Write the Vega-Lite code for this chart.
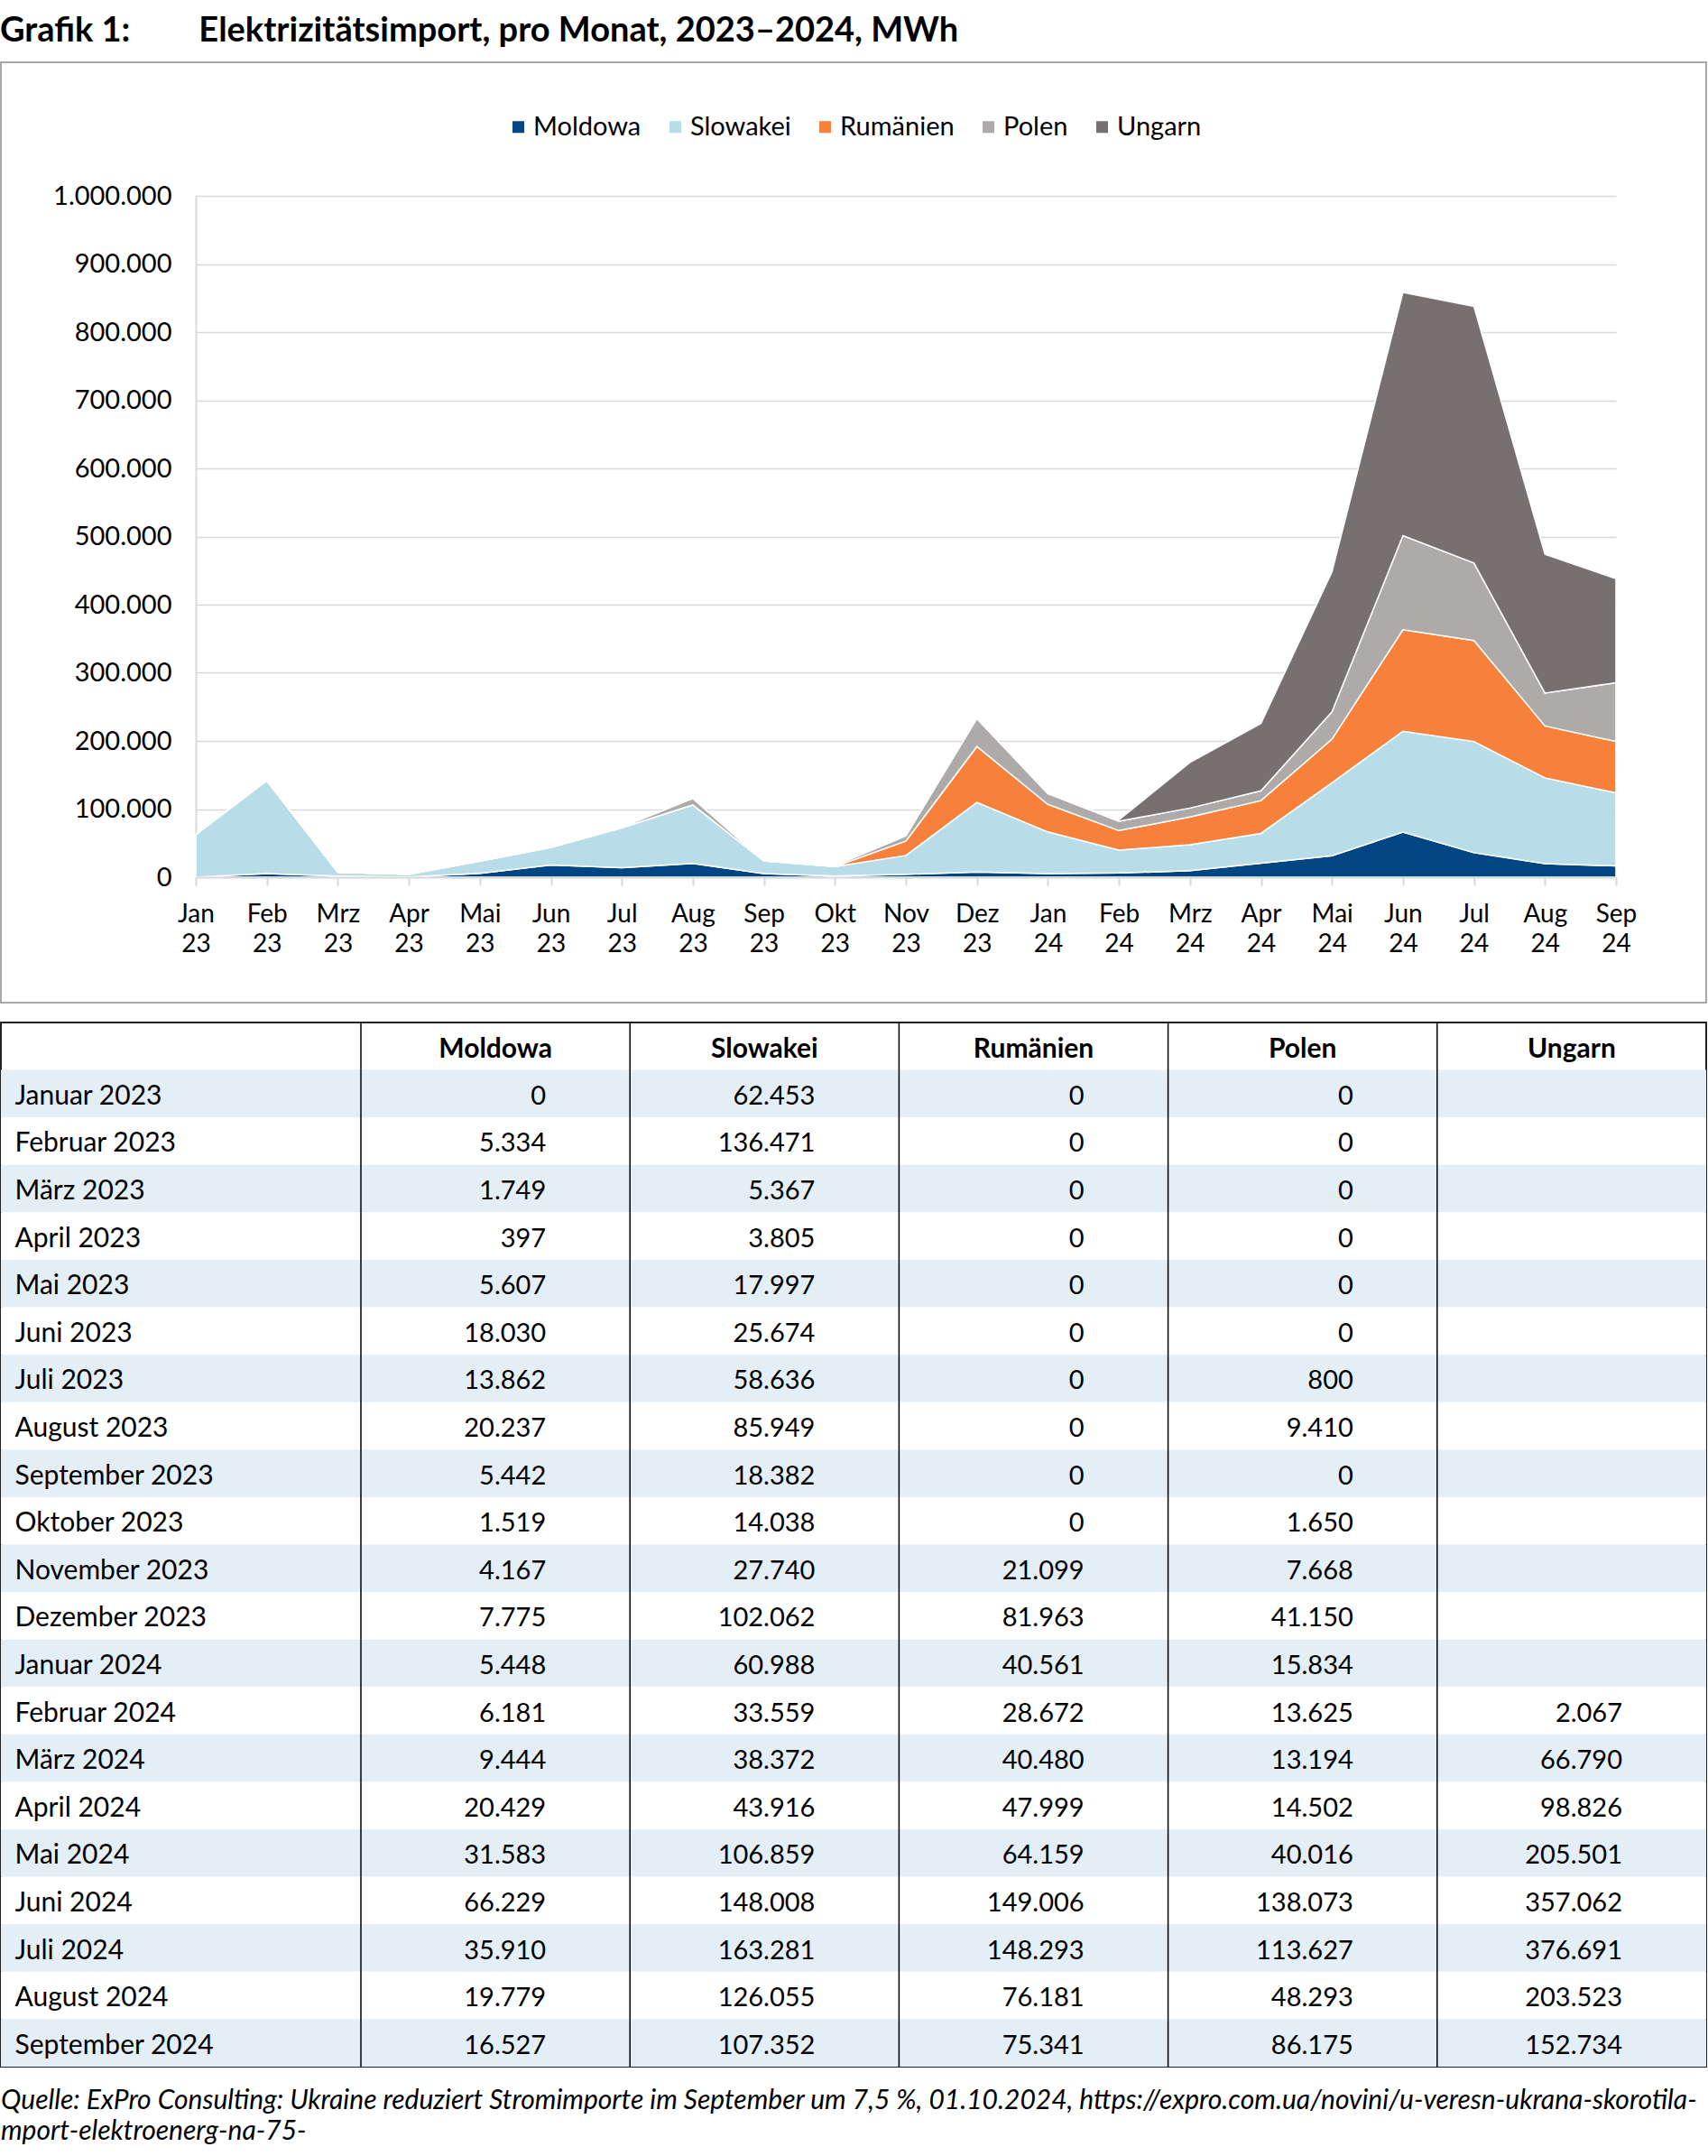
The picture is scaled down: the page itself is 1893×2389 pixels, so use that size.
{
  "$schema": "https://vega.github.io/schema/vega-lite/v6.json",
  "padding": {"left": 0, "top": 16, "right": 2, "bottom": 0},
  "autosize": {"type": "pad"},
  "background": "white",
  "spacing": 19,
  "config": {
    "font": "Lato",
    "locale": {"number": {"decimal": ",", "thousands": ".", "grouping": [3], "currency": ["", " €"]}},
    "view": {"stroke": null}
  },
  "title": {
    "text": "Grafik 1:\u2003\u2003\u2002Elektrizitätsimport, pro Monat, 2023–2024, MWh",
    "anchor": "start", "frame": "bounds", "fontSize": 38, "fontWeight": "bold", "font": "Lato", "color": "black", "offset": 14
  },
  "datasets": {
    "importe": [
      {"monat": "Januar 2023", "land": "Moldowa", "mwh": 0},
      {"monat": "Januar 2023", "land": "Slowakei", "mwh": 62453},
      {"monat": "Januar 2023", "land": "Rumänien", "mwh": 0},
      {"monat": "Januar 2023", "land": "Polen", "mwh": 0},
      {"monat": "Februar 2023", "land": "Moldowa", "mwh": 5334},
      {"monat": "Februar 2023", "land": "Slowakei", "mwh": 136471},
      {"monat": "Februar 2023", "land": "Rumänien", "mwh": 0},
      {"monat": "Februar 2023", "land": "Polen", "mwh": 0},
      {"monat": "März 2023", "land": "Moldowa", "mwh": 1749},
      {"monat": "März 2023", "land": "Slowakei", "mwh": 5367},
      {"monat": "März 2023", "land": "Rumänien", "mwh": 0},
      {"monat": "März 2023", "land": "Polen", "mwh": 0},
      {"monat": "April 2023", "land": "Moldowa", "mwh": 397},
      {"monat": "April 2023", "land": "Slowakei", "mwh": 3805},
      {"monat": "April 2023", "land": "Rumänien", "mwh": 0},
      {"monat": "April 2023", "land": "Polen", "mwh": 0},
      {"monat": "Mai 2023", "land": "Moldowa", "mwh": 5607},
      {"monat": "Mai 2023", "land": "Slowakei", "mwh": 17997},
      {"monat": "Mai 2023", "land": "Rumänien", "mwh": 0},
      {"monat": "Mai 2023", "land": "Polen", "mwh": 0},
      {"monat": "Juni 2023", "land": "Moldowa", "mwh": 18030},
      {"monat": "Juni 2023", "land": "Slowakei", "mwh": 25674},
      {"monat": "Juni 2023", "land": "Rumänien", "mwh": 0},
      {"monat": "Juni 2023", "land": "Polen", "mwh": 0},
      {"monat": "Juli 2023", "land": "Moldowa", "mwh": 13862},
      {"monat": "Juli 2023", "land": "Slowakei", "mwh": 58636},
      {"monat": "Juli 2023", "land": "Rumänien", "mwh": 0},
      {"monat": "Juli 2023", "land": "Polen", "mwh": 800},
      {"monat": "August 2023", "land": "Moldowa", "mwh": 20237},
      {"monat": "August 2023", "land": "Slowakei", "mwh": 85949},
      {"monat": "August 2023", "land": "Rumänien", "mwh": 0},
      {"monat": "August 2023", "land": "Polen", "mwh": 9410},
      {"monat": "September 2023", "land": "Moldowa", "mwh": 5442},
      {"monat": "September 2023", "land": "Slowakei", "mwh": 18382},
      {"monat": "September 2023", "land": "Rumänien", "mwh": 0},
      {"monat": "September 2023", "land": "Polen", "mwh": 0},
      {"monat": "Oktober 2023", "land": "Moldowa", "mwh": 1519},
      {"monat": "Oktober 2023", "land": "Slowakei", "mwh": 14038},
      {"monat": "Oktober 2023", "land": "Rumänien", "mwh": 0},
      {"monat": "Oktober 2023", "land": "Polen", "mwh": 1650},
      {"monat": "November 2023", "land": "Moldowa", "mwh": 4167},
      {"monat": "November 2023", "land": "Slowakei", "mwh": 27740},
      {"monat": "November 2023", "land": "Rumänien", "mwh": 21099},
      {"monat": "November 2023", "land": "Polen", "mwh": 7668},
      {"monat": "Dezember 2023", "land": "Moldowa", "mwh": 7775},
      {"monat": "Dezember 2023", "land": "Slowakei", "mwh": 102062},
      {"monat": "Dezember 2023", "land": "Rumänien", "mwh": 81963},
      {"monat": "Dezember 2023", "land": "Polen", "mwh": 41150},
      {"monat": "Januar 2024", "land": "Moldowa", "mwh": 5448},
      {"monat": "Januar 2024", "land": "Slowakei", "mwh": 60988},
      {"monat": "Januar 2024", "land": "Rumänien", "mwh": 40561},
      {"monat": "Januar 2024", "land": "Polen", "mwh": 15834},
      {"monat": "Februar 2024", "land": "Moldowa", "mwh": 6181},
      {"monat": "Februar 2024", "land": "Slowakei", "mwh": 33559},
      {"monat": "Februar 2024", "land": "Rumänien", "mwh": 28672},
      {"monat": "Februar 2024", "land": "Polen", "mwh": 13625},
      {"monat": "Februar 2024", "land": "Ungarn", "mwh": 2067},
      {"monat": "März 2024", "land": "Moldowa", "mwh": 9444},
      {"monat": "März 2024", "land": "Slowakei", "mwh": 38372},
      {"monat": "März 2024", "land": "Rumänien", "mwh": 40480},
      {"monat": "März 2024", "land": "Polen", "mwh": 13194},
      {"monat": "März 2024", "land": "Ungarn", "mwh": 66790},
      {"monat": "April 2024", "land": "Moldowa", "mwh": 20429},
      {"monat": "April 2024", "land": "Slowakei", "mwh": 43916},
      {"monat": "April 2024", "land": "Rumänien", "mwh": 47999},
      {"monat": "April 2024", "land": "Polen", "mwh": 14502},
      {"monat": "April 2024", "land": "Ungarn", "mwh": 98826},
      {"monat": "Mai 2024", "land": "Moldowa", "mwh": 31583},
      {"monat": "Mai 2024", "land": "Slowakei", "mwh": 106859},
      {"monat": "Mai 2024", "land": "Rumänien", "mwh": 64159},
      {"monat": "Mai 2024", "land": "Polen", "mwh": 40016},
      {"monat": "Mai 2024", "land": "Ungarn", "mwh": 205501},
      {"monat": "Juni 2024", "land": "Moldowa", "mwh": 66229},
      {"monat": "Juni 2024", "land": "Slowakei", "mwh": 148008},
      {"monat": "Juni 2024", "land": "Rumänien", "mwh": 149006},
      {"monat": "Juni 2024", "land": "Polen", "mwh": 138073},
      {"monat": "Juni 2024", "land": "Ungarn", "mwh": 357062},
      {"monat": "Juli 2024", "land": "Moldowa", "mwh": 35910},
      {"monat": "Juli 2024", "land": "Slowakei", "mwh": 163281},
      {"monat": "Juli 2024", "land": "Rumänien", "mwh": 148293},
      {"monat": "Juli 2024", "land": "Polen", "mwh": 113627},
      {"monat": "Juli 2024", "land": "Ungarn", "mwh": 376691},
      {"monat": "August 2024", "land": "Moldowa", "mwh": 19779},
      {"monat": "August 2024", "land": "Slowakei", "mwh": 126055},
      {"monat": "August 2024", "land": "Rumänien", "mwh": 76181},
      {"monat": "August 2024", "land": "Polen", "mwh": 48293},
      {"monat": "August 2024", "land": "Ungarn", "mwh": 203523},
      {"monat": "September 2024", "land": "Moldowa", "mwh": 16527},
      {"monat": "September 2024", "land": "Slowakei", "mwh": 107352},
      {"monat": "September 2024", "land": "Rumänien", "mwh": 75341},
      {"monat": "September 2024", "land": "Polen", "mwh": 86175},
      {"monat": "September 2024", "land": "Ungarn", "mwh": 152734}
    ]
  },
  "resolve": {"scale": {"x": "independent", "y": "independent"}},
  "vconcat": [
    {
      "width": 1890,
      "height": 1042,
      "view": {"stroke": "#8c8c8c", "strokeWidth": 1.5},
      "data": {"name": "importe"},
      "transform": [
        {"calculate": "indexof(['Moldowa','Slowakei','Rumänien','Polen','Ungarn'], datum.land)", "as": "rang"}
      ],
      "mark": {"type": "area", "stroke": "white", "strokeWidth": 1.5, "opacity": 1},
      "encoding": {
        "x": {
          "field": "monat", "type": "ordinal", "sort": null,
          "scale": {"type": "point", "range": [216, 1790], "padding": 0},
          "axis": {
            "title": null, "orient": "bottom", "offset": -139, "labelAngle": 0,
            "labelExpr": "[replace(substring(datum.label, 0, 3), 'Mär', 'Mrz'), substring(datum.label, length(datum.label) - 2)]",
            "labelFont": "Lato", "labelFontSize": 28, "labelLineHeight": 33, "labelColor": "black",
            "labelPadding": 18, "tickSize": 9, "tickColor": "#d9d9d9", "tickWidth": 2,
            "domainColor": "#d9d9d9", "domainWidth": 2, "grid": false, "zindex": 1
          }
        },
        "y": {
          "field": "mwh", "type": "quantitative", "stack": "zero",
          "scale": {"domain": [0, 1000000], "range": [903, 148], "nice": false},
          "axis": {
            "title": null, "orient": "left", "offset": -216, "format": ",d",
            "values": [0, 100000, 200000, 300000, 400000, 500000, 600000, 700000, 800000, 900000, 1000000],
            "labelFont": "Lato", "labelFontSize": 29, "labelColor": "black", "labelPadding": 27,
            "ticks": false, "tickSize": 0, "domainColor": "#d9d9d9", "domainWidth": 2,
            "grid": true, "gridColor": "#d9d9d9", "gridWidth": 1.5
          }
        },
        "color": {
          "field": "land", "type": "nominal",
          "scale": {
            "domain": ["Moldowa", "Slowakei", "Rumänien", "Polen", "Ungarn"],
            "range": ["#014582", "#b8dde9", "#f7803b", "#adaaa9", "#767170"]
          },
          "legend": {
            "title": null, "orient": "none", "legendX": 559, "legendY": 57, "direction": "horizontal",
            "symbolType": "square", "symbolSize": 170, "symbolStrokeWidth": 0, "symbolOpacity": 1,
            "labelFont": "Lato", "labelFontSize": 29, "labelColor": "black", "labelOffset": 2, "columnPadding": 23
          }
        },
        "order": {"field": "rang", "type": "quantitative"}
      }
    },
    {
      "width": 1890,
      "height": 1157,
      "view": {"stroke": "#222222", "strokeWidth": 2},
      "data": {"name": "importe"},
      "title": {
        "text": [
          "Quelle: ExPro Consulting: Ukraine reduziert Stromimporte im September um 7,5 %, 01.10.2024, https://expro.com.ua/novini/u-veresn-ukrana-skorotila-",
          "mport-elektroenerg-na-75-"
        ],
        "orient": "bottom", "anchor": "start", "frame": "group", "font": "Lato", "fontSize": 30,
        "fontStyle": "italic", "fontWeight": "normal", "lineHeight": 34, "color": "black", "offset": 22
      },
      "layer": [
        {
          "transform": [
            {"filter": "datum.land == 'Moldowa'"},
            {"window": [{"op": "row_number", "as": "nr"}]}
          ],
          "mark": {"type": "rect"},
          "encoding": {
            "y": {
              "field": "monat", "type": "nominal", "sort": null,
              "scale": {"type": "band", "paddingInner": 0, "paddingOuter": 0.5, "align": 1},
              "axis": {
                "title": null, "orient": "left", "domain": false, "ticks": false, "tickSize": 0,
                "labelPadding": -15, "labelAlign": "left", "labelBaseline": "middle", "labelOffset": 3,
                "labelFont": "Lato", "labelFontSize": 30, "labelColor": "black", "labelLimit": 500, "zindex": 2
              }
            },
            "fill": {"condition": {"test": "datum.nr % 2 == 1", "value": "#e3eef6"}, "value": "white"}
          }
        },
        {
          "transform": [{"aggregate": [{"op": "count", "as": "n"}], "groupby": ["land"]}],
          "mark": {"type": "rule", "color": "black", "strokeWidth": 1.5},
          "encoding": {
            "x": {
              "field": "land", "type": "nominal", "bandPosition": 0,
              "scale": {"type": "band", "domain": ["Moldowa", "Slowakei", "Rumänien", "Polen", "Ungarn"], "range": [399, 1890], "paddingInner": 0, "paddingOuter": 0},
              "axis": {
                "title": null, "orient": "top", "domain": false, "ticks": false, "tickSize": 0,
                "labelPadding": -29, "labelBaseline": "middle", "labelAngle": 0,
                "labelFont": "Lato", "labelFontSize": 30, "labelFontWeight": "bold", "labelColor": "black", "zindex": 2
              }
            }
          }
        },
        {
          "mark": {"type": "text", "align": "right", "baseline": "middle", "dx": -93, "dy": 3, "font": "Lato", "fontSize": 29, "color": "black"},
          "encoding": {
            "x": {"field": "land", "type": "nominal", "bandPosition": 1},
            "y": {"field": "monat", "type": "nominal", "sort": null},
            "text": {"field": "mwh", "type": "quantitative", "format": ",d"}
          }
        }
      ]
    }
  ]
}
